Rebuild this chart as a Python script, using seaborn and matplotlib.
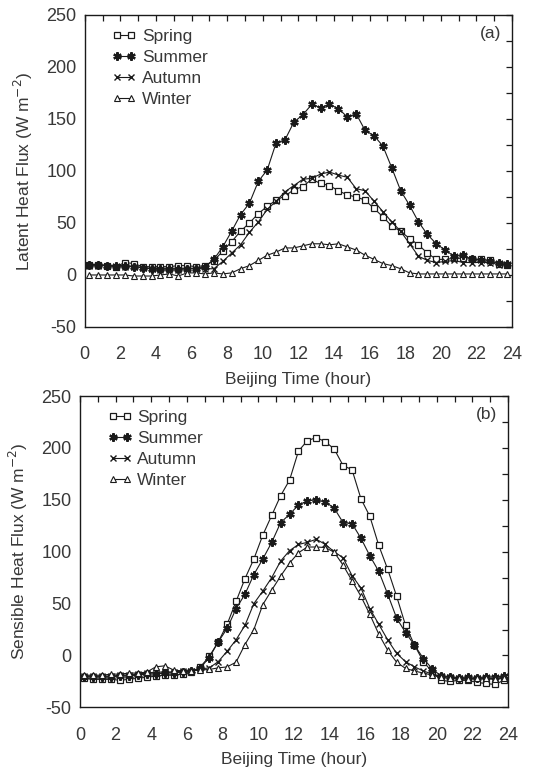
import numpy as np
import pandas as pd
import seaborn as sns
import matplotlib
matplotlib.use("Agg")
import matplotlib.pyplot as plt
from matplotlib.ticker import MultipleLocator

# half-hourly means, Beijing time
hours = [0.25, 0.75, 1.25, 1.75, 2.25, 2.75, 3.25, 3.75, 4.25, 4.75, 5.25, 5.75,
         6.25, 6.75, 7.25, 7.75, 8.25, 8.75, 9.25, 9.75, 10.25, 10.75, 11.25, 11.75,
         12.25, 12.75, 13.25, 13.75, 14.25, 14.75, 15.25, 15.75, 16.25, 16.75, 17.25, 17.75,
         18.25, 18.75, 19.25, 19.75, 20.25, 20.75, 21.25, 21.75, 22.25, 22.75, 23.25, 23.75]

seasons = ["Spring", "Summer", "Autumn", "Winter"]

# (a) latent heat flux
spring_le = [10, 10, 9, 8, 12, 11, 8, 8, 8, 8, 9, 9, 8, 9,
             13.5, 23, 32, 42, 50, 59, 66, 72, 76, 82, 85, 92, 88, 86, 81, 77, 75, 72,
             64, 56, 47, 42, 35, 29, 21, 15, 15, 16, 16, 15, 15, 14, 11, 10]
summer_le = [10, 10, 9, 9, 9, 8, 7, 6, 6, 6, 6, 6, 6, 8,
             15, 27, 42, 58, 69, 90, 101, 127, 130, 147, 154, 164, 161, 164, 160, 152, 155, 139,
             134, 124, 103, 81, 67, 51, 39, 30, 24, 18, 19, 15, 14, 13, 12, 11]
autumn_le = [9, 9, 9, 8, 8, 8, 7, 6, 5, 5, 5, 6, 6, 6,
             6, 13, 21, 29, 41, 51, 63, 71, 80, 86, 92, 93, 97, 99, 96, 94, 83, 81,
             71, 61, 51, 42, 30, 18, 14, 12, 13, 14, 12, 12, 12, 12, 10, 10]
winter_le = [0, 0, 0, 0, 0, -1, -1, -1, 0, 1, -1, 2, 2, 1,
             2, 1, 2, 6, 9, 14, 19, 22, 26, 26, 28, 30, 30, 29, 30, 27, 24, 19,
             15, 11, 9, 6, 2, 1, 1, 1, 1, 1, 1, 1, 1, 1, 1, 1]

# (b) sensible heat flux
spring_sh = [-22, -23, -23, -23, -24, -23, -22, -21, -20, -19, -19, -18, -16, -11,
             -1, 13, 30, 52, 74, 93, 116, 135, 154, 169, 197, 207, 210, 206, 199, 183, 179, 151,
             134, 106, 83, 57, 29, 10, -6, -16, -24, -25, -24, -24, -26, -27, -28, -24]
summer_sh = [-21, -21, -21, -21, -20, -20, -19, -18, -18, -17, -17, -16, -15, -12,
             -2, 13, 26, 45, 59, 78, 93, 109, 128, 136, 145, 149, 150, 148, 142, 128, 127, 113,
             96, 81, 59, 36, 22, 10, -3, -13, -20, -21, -22, -21, -22, -21, -21, -20]
autumn_sh = [-20, -20, -20, -20, -19, -19, -18, -17, -16, -16, -16, -15, -15, -13,
             -12, -6, 4, 15, 29, 50, 62, 75, 91, 101, 107, 109, 112, 107, 100, 94, 77, 65,
             45, 30, 15, 2, -6, -11, -15, -18, -20, -21, -22, -23, -22, -23, -22, -21]
winter_sh = [-19, -19, -19, -18, -18, -17, -17, -16, -11, -10, -14, -15, -15, -14,
             -13.5, -12, -11, -6.5, 10.5, 25, 49, 63, 76.5, 89, 99, 104.5, 104.5, 104, 99.5, 87, 72, 57,
             39.5, 20.5, 5, -6.5, -12.5, -15, -17, -19, -21, -22, -22, -23, -22, -22, -23, -22]

INK = "#1a1a1a"
TXT = "#383838"
asterisk = (6, 2, 0)
styles = {
    "Spring": dict(marker="s", markersize=5, markerfacecolor="white", markeredgewidth=0.9),
    "Summer": dict(marker=asterisk, markersize=6, markeredgewidth=1.6),
    "Autumn": dict(marker="x", markersize=5, markeredgewidth=1.0),
    "Winter": dict(marker="^", markersize=5, markerfacecolor="white", markeredgewidth=0.8),
}


def make_frame(values):
    rows = []
    for season, vals in zip(seasons, values):
        for h, v in zip(hours, vals):
            rows.append({"hour": h, "flux": v, "season": season})
    return pd.DataFrame(rows)


def draw_panel(ax, df, ylabel, tag):
    for season in seasons:
        sub = df[df["season"] == season]
        sns.lineplot(data=sub, x="hour", y="flux", ax=ax, color=INK, linewidth=0.8,
                     markeredgecolor=INK, label=season, **styles[season])
    ax.set_xlim(0, 24)
    ax.set_ylim(-50, 250)
    ax.xaxis.set_major_locator(MultipleLocator(2))
    ax.xaxis.set_minor_locator(MultipleLocator(1))
    ax.yaxis.set_major_locator(MultipleLocator(50))
    ax.yaxis.set_minor_locator(MultipleLocator(25))
    ax.tick_params(which="both", direction="in", top=True, right=True, length=4,
                   width=0.9, colors=INK, labelsize=13, labelcolor=TXT)
    ax.tick_params(axis="x", which="major", pad=14)
    ax.tick_params(axis="y", which="major", pad=6)
    ax.set_xlabel("Beijing Time (hour)", fontsize=12.5, color=TXT, labelpad=6)
    ax.set_ylabel(ylabel, fontsize=12.5, color=TXT, labelpad=8)
    for sp in ax.spines.values():
        sp.set_linewidth(1.0)
        sp.set_color(INK)
    ax.text(0.975, 0.94, tag, transform=ax.transAxes, ha="right", va="center",
            fontsize=12.5, color=TXT)
    ax.legend(loc="upper left", frameon=False, numpoints=2, handlelength=1.4,
              handletextpad=0.3, labelspacing=0.35, fontsize=12.5,
              bbox_to_anchor=(0.04, 0.99), borderaxespad=0.2, labelcolor=TXT)


sns.set_style("white")
plt.rcParams["font.family"] = ["Liberation Sans", "DejaVu Sans"]
plt.rcParams["axes.unicode_minus"] = False

fig = plt.figure(figsize=(5.4, 7.69), dpi=100)
ax_a = fig.add_axes([0.157, 0.5748, 0.791, 0.4057])
ax_b = fig.add_axes([0.148, 0.0802, 0.793, 0.4048])

draw_panel(ax_a, make_frame([spring_le, summer_le, autumn_le, winter_le]),
           "Latent Heat Flux (W m$^{-2}$)", "(a)")
draw_panel(ax_b, make_frame([spring_sh, summer_sh, autumn_sh, winter_sh]),
           "Sensible Heat Flux (W m$^{-2}$)", "(b)")

fig.savefig("out.png", dpi=100)
